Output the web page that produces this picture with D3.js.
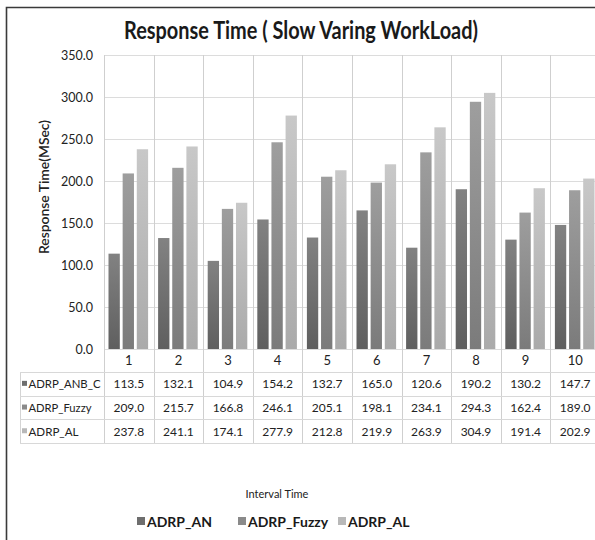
<!DOCTYPE html>
<html>
<head>
<meta charset="utf-8">
<script src="https://cdn.jsdelivr.net/npm/d3@7/dist/d3.min.js"></script>
<style>
  html, body { margin: 0; padding: 0; background: #fff; }
  svg { display: block; font-family: Lato, "Open Sans", sans-serif; }
</style>
</head>
<body>
<svg id="chart" width="595" height="540"></svg>
<script>
// Chart data
const categories = ["1", "2", "3", "4", "5", "6", "7", "8", "9", "10"];
const seriesNames = ["ADRP_ANB_C", "ADRP_Fuzzy", "ADRP_AL"];
const legendNames = ["ADRP_AN", "ADRP_Fuzzy", "ADRP_AL"];
const anbValues   = [113.5, 132.1, 104.9, 154.2, 132.7, 165.0, 120.6, 190.2, 130.2, 147.7];
const fuzzyValues = [209.0, 215.7, 166.8, 246.1, 205.1, 198.1, 234.1, 294.3, 162.4, 189.0];
const alValues    = [237.8, 241.1, 174.1, 277.9, 212.8, 219.9, 263.9, 304.9, 191.4, 202.9];
const yTicks = [0, 50, 100, 150, 200, 250, 300, 350];

const series = [anbValues, fuzzyValues, alValues];
const gradients = [["#828282", "#5f5f5f"], ["#9e9e9e", "#7b7b7b"], ["#c8c8c8", "#aaaaaa"]];
const swatch = ["#6e6e6e", "#8a8a8a", "#b8b8b8"];
const rowLabelWidths = [72, 63, 50];

const svg = d3.select("#chart");
const W = 595, H = 540;

// Layout
const plotLeft = 104, catW = 49.6;
const plotTop = 55, plotBottom = 349;
const tableLeft = 20;
const rowH = 23.7;
const headerBottom = 372;

const x = d3.scaleBand().domain(categories).range([plotLeft, plotLeft + catW * categories.length]).padding(0);
const xs = d3.scaleBand().domain(d3.range(series.length)).range([4.5, catW - 5.5]).paddingInner(0.2).paddingOuter(0);
const y = d3.scaleLinear().domain([0, 350]).range([plotBottom, plotTop]);

// Gradients for bars
const defs = svg.append("defs");
gradients.forEach((g, i) => {
  const lg = defs.append("linearGradient").attr("id", "g" + i)
    .attr("x1", 0).attr("y1", 0).attr("x2", 0).attr("y2", 1);
  lg.append("stop").attr("offset", "0%").attr("stop-color", g[0]);
  lg.append("stop").attr("offset", "100%").attr("stop-color", g[1]);
});

// Outer frame
svg.append("path")
  .attr("d", `M6.5,${H + 2} L6.5,7.5 L${W + 2},7.5`)
  .attr("fill", "none").attr("stroke", "#3a3a3a").attr("stroke-width", 1.6);

// Title
svg.append("text")
  .attr("x", 301).attr("y", 39).attr("text-anchor", "middle")
  .attr("font-size", 25).attr("font-weight", 700).attr("fill", "#1a1a1a")
  .attr("textLength", 354).attr("lengthAdjust", "spacingAndGlyphs")
  .text("Response Time ( Slow Varing WorkLoad)");

// Horizontal gridlines
svg.append("g").selectAll("line").data(yTicks).join("line")
  .attr("x1", plotLeft).attr("x2", W)
  .attr("y1", d => Math.round(y(d)) + 0.5).attr("y2", d => Math.round(y(d)) + 0.5)
  .attr("stroke", "#dcdcdc").attr("stroke-width", 1);

// Y axis labels
const yAxis = d3.axisLeft(y).tickValues(yTicks).tickFormat(d3.format(".1f")).tickSize(0).tickPadding(11);
const ya = svg.append("g").attr("transform", `translate(${plotLeft},0)`).call(yAxis);
ya.select(".domain").remove();
ya.selectAll("text").attr("font-size", 12.5).attr("fill", "#222").attr("font-family", "Lato, sans-serif");

// Y axis title
svg.append("text")
  .attr("transform", "translate(49,187) rotate(-90)")
  .attr("text-anchor", "middle").attr("font-size", 12.5).attr("font-weight", 600).attr("fill", "#222")
  .attr("textLength", 134).attr("lengthAdjust", "spacingAndGlyphs")
  .text("Response Time(MSec)");

// Bars
const groups = svg.append("g").selectAll("g").data(categories).join("g")
  .attr("transform", d => `translate(${x(d)},0)`);
groups.selectAll("rect")
  .data((c, ci) => series.map((s, si) => ({ si, v: s[ci] })))
  .join("rect")
  .attr("x", d => xs(d.si))
  .attr("width", xs.bandwidth())
  .attr("y", d => y(d.v))
  .attr("height", d => y(0) - y(d.v))
  .attr("fill", d => `url(#g${d.si})`);

// Data table grid
const tableBottom = headerBottom + rowH * series.length;
const vLines = categories.map(c => x(c)).concat([x(categories[categories.length - 1]) + catW]);
svg.append("g").selectAll("line").data(vLines).join("line")
  .attr("x1", d => Math.round(d) + 0.5).attr("x2", d => Math.round(d) + 0.5)
  .attr("y1", plotTop).attr("y2", tableBottom)
  .attr("stroke", "#cfcfcf").attr("stroke-width", 1);
svg.append("line")
  .attr("x1", tableLeft + 0.5).attr("x2", tableLeft + 0.5)
  .attr("y1", headerBottom).attr("y2", tableBottom)
  .attr("stroke", "#d4d4d4");
svg.append("g").selectAll("line").data(d3.range(series.length + 1)).join("line")
  .attr("x1", tableLeft).attr("x2", W)
  .attr("y1", i => Math.round(headerBottom + i * rowH) + 0.5)
  .attr("y2", i => Math.round(headerBottom + i * rowH) + 0.5)
  .attr("stroke", "#d8d8d8");

// Category labels
svg.append("g").selectAll("text").data(categories).join("text")
  .attr("x", d => x(d) + catW / 2).attr("y", 365)
  .attr("text-anchor", "middle").attr("font-size", 13).attr("fill", "#222")
  .text(d => d);

// Table rows
series.forEach((s, si) => {
  const cy = headerBottom + rowH * si + rowH / 2;
  svg.append("rect").attr("x", 22).attr("y", cy - 3).attr("width", 5).attr("height", 5).attr("fill", swatch[si]);
  svg.append("text").attr("x", 28.5).attr("y", cy + 4.5)
    .attr("font-size", 12).attr("fill", "#222")
    .attr("textLength", rowLabelWidths[si]).attr("lengthAdjust", "spacingAndGlyphs")
    .text(seriesNames[si]);
  svg.append("g").selectAll("text").data(s).join("text")
    .attr("x", (d, i) => x(categories[i]) + catW / 2).attr("y", cy + 4.5)
    .attr("text-anchor", "middle").attr("font-size", 12).attr("fill", "#222")
    .text(d => d3.format(".1f")(d));
});

// X axis title
svg.append("text").attr("x", 277).attr("y", 498)
  .attr("text-anchor", "middle").attr("font-size", 11).attr("fill", "#222")
  .text("Interval Time");

// Legend
const legendX = [137, 238, 338];
const lg = svg.append("g").selectAll("g").data(legendNames).join("g")
  .attr("transform", (d, i) => `translate(${legendX[i]},522)`);
lg.append("rect").attr("x", 0).attr("y", -5).attr("width", 8).attr("height", 8).attr("fill", (d, i) => swatch[i]);
lg.append("text").attr("x", 10).attr("y", 4.5)
  .attr("font-size", 14).attr("font-weight", 700).attr("fill", "#1a1a1a")
  .text(d => d);
</script>
</body>
</html>
